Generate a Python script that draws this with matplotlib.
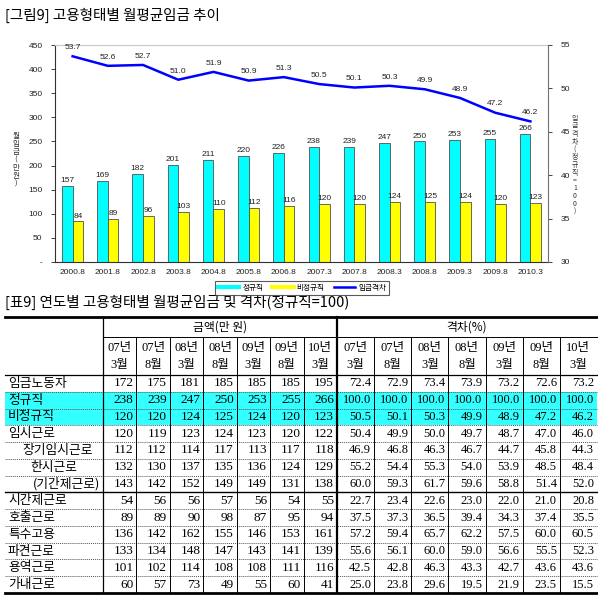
import matplotlib
matplotlib.use("Agg")
import matplotlib.pyplot as plt
import numpy as np
from matplotlib.lines import Line2D
from matplotlib.patches import Rectangle

plt.rcParams['font.family'] = ['Liberation Sans', 'Noto Sans CJK KR', 'DejaVu Sans']

# ---------------- chart data ----------------
periods = ["2000.8", "2001.8", "2002.8", "2003.8", "2004.8", "2005.8", "2006.8",
           "2007.3", "2007.8", "2008.3", "2008.8", "2009.3", "2009.8", "2010.3"]
regular = [157, 169, 182, 201, 211, 220, 226, 238, 239, 247, 250, 253, 255, 266]
nonregular = [84, 89, 96, 103, 110, 112, 116, 120, 120, 124, 125, 124, 120, 123]
wage_gap = [53.7, 52.6, 52.7, 51.0, 51.9, 50.9, 51.3, 50.5, 50.1, 50.3, 49.9, 48.9, 47.2, 46.2]
left_ticks = [0, 50, 100, 150, 200, 250, 300, 350, 400, 450]
left_tick_labels = ["-", "50", "100", "150", "200", "250", "300", "350", "400", "450"]
right_ticks = [30, 35, 40, 45, 50, 55]
legend_labels = ["정규직", "비정규직", "임금격차"]

# ---------------- table data ----------------
col_headers = ["07년\n3월", "07년\n8월", "08년\n3월", "08년\n8월", "09년\n3월", "09년\n8월", "10년\n3월"]
row_labels = ["임금노동자", "정규직", "비정규직", "임시근로", "장기임시근로", "한시근로", "(기간제근로)",
              "시간제근로", "호출근로", "특수고용", "파견근로", "용역근로", "가내근로"]
row_indent = [0, 0, 0, 0, 14, 22, 25, 0, 0, 0, 0, 0, 0]
amounts = [
    [172, 175, 181, 185, 185, 185, 195],
    [238, 239, 247, 250, 253, 255, 266],
    [120, 120, 124, 125, 124, 120, 123],
    [120, 119, 123, 124, 123, 120, 122],
    [112, 112, 114, 117, 113, 117, 118],
    [132, 130, 137, 135, 136, 124, 129],
    [143, 142, 152, 149, 149, 131, 138],
    [54, 56, 56, 57, 56, 54, 55],
    [89, 89, 90, 98, 87, 95, 94],
    [136, 142, 162, 155, 146, 153, 161],
    [133, 134, 148, 147, 143, 141, 139],
    [101, 102, 114, 108, 108, 111, 116],
    [60, 57, 73, 49, 55, 60, 41],
]
gaps = [
    [72.4, 72.9, 73.4, 73.9, 73.2, 72.6, 73.2],
    [100.0, 100.0, 100.0, 100.0, 100.0, 100.0, 100.0],
    [50.5, 50.1, 50.3, 49.9, 48.9, 47.2, 46.2],
    [50.4, 49.9, 50.0, 49.7, 48.7, 47.0, 46.0],
    [46.9, 46.8, 46.3, 46.7, 44.7, 45.8, 44.3],
    [55.2, 54.4, 55.3, 54.0, 53.9, 48.5, 48.4],
    [60.0, 59.3, 61.7, 59.6, 58.8, 51.4, 52.0],
    [22.7, 23.4, 22.6, 23.0, 22.0, 21.0, 20.8],
    [37.5, 37.3, 36.5, 39.4, 34.3, 37.4, 35.5],
    [57.2, 59.4, 65.7, 62.2, 57.5, 60.0, 60.5],
    [55.6, 56.1, 60.0, 59.0, 56.6, 55.5, 52.3],
    [42.5, 42.8, 46.3, 43.3, 42.7, 43.6, 43.6],
    [25.0, 23.8, 29.6, 19.5, 21.9, 23.5, 15.5],
]
highlight_rows = [1, 2]

W, H = 598, 601
fig = plt.figure(figsize=(W / 100, H / 100), dpi=100)

# overlay axes in pixel coordinates for titles and table
tax = fig.add_axes([0, 0, 1, 1])
tax.set_xlim(0, W)
tax.set_ylim(H, 0)
tax.axis("off")

kfont = ['Noto Sans CJK KR', 'DejaVu Sans']
sfont = ['Liberation Serif', 'Noto Sans CJK KR', 'DejaVu Sans']

tax.text(5, 15, "[그림9] 고용형태별 월평균임금 추이", fontsize=10.5, family=kfont,
         va="center", ha="left")
tax.text(5, 302, "[표9] 연도별 고용형태별 월평균임금 및 격차(정규직=100)", fontsize=10.5,
         family=kfont, va="center", ha="left")

# ---------------- chart ----------------
ax = fig.add_axes([55 / W, 1 - 262 / H, 493 / W, 217 / H])
x = np.arange(len(periods))
bw = 0.3
ax.bar(x - bw / 2, regular, bw, color="#00FFFF", edgecolor="#505050", linewidth=0.6, zorder=2)
ax.bar(x + bw / 2, nonregular, bw, color="#FFFF00", edgecolor="#505050", linewidth=0.6, zorder=2)
for xi, v in zip(x, regular):
    ax.text(xi - bw / 2, v + 4, str(v), ha="center", va="bottom", fontsize=6, color="#222222")
for xi, v in zip(x, nonregular):
    ax.text(xi + bw / 2, v + 4, str(v), ha="center", va="bottom", fontsize=6, color="#222222")
ax.set_xlim(-0.5, len(periods) - 0.5)
ax.set_ylim(0, 450)
ax.set_yticks(left_ticks)
ax.set_yticklabels(left_tick_labels)
ax.set_xticks(x)
ax.set_xticklabels(periods)
ax.tick_params(axis="x", length=0, labelsize=6, pad=5, colors="#222222")
ax.tick_params(axis="y", length=3, width=0.6, labelsize=6, colors="#222222", pad=6)
ax.spines["top"].set_color("#C8C8C8")
ax.spines["left"].set_color("#303030")
ax.spines["bottom"].set_color("#303030")
ax.spines["right"].set_visible(False)

ax2 = ax.twinx()
ax2.plot(x, wage_gap, color="#0000FF", linewidth=1.8, zorder=3)
for xi, v in zip(x, wage_gap):
    ax2.text(xi, v + 0.6, f"{v:.1f}", ha="center", va="bottom", fontsize=6, color="#222222")
ax2.set_ylim(30, 55)
ax2.set_yticks(right_ticks)
ax2.tick_params(axis="y", length=3, width=0.6, labelsize=6, colors="#222222", pad=6)
ax2.spines["right"].set_color("#707070")
ax2.spines["top"].set_visible(False)
ax2.spines["left"].set_visible(False)
ax2.spines["bottom"].set_visible(False)

tax.text(16, 160, "\n".join("월임금(만원)"), fontsize=5.5, family=kfont, ha="center",
         va="center", linespacing=1.0, color="#333333")
tax.text(575, 165, "\n".join("임금격차(정규직=100)"), fontsize=5.0, family=kfont, ha="center",
         va="center", linespacing=0.95, color="#333333")

handles = [Line2D([], [], color="#00FFFF", lw=3),
           Line2D([], [], color="#FFFF00", lw=3),
           Line2D([], [], color="#0000FF", lw=1.8)]
leg = fig.legend(handles, legend_labels, loc="center", bbox_to_anchor=(302 / W, 1 - 288 / H),
                 ncol=3, frameon=True, fancybox=False, edgecolor="#303030",
                 handlelength=2.8, columnspacing=1.2, handletextpad=0.4, borderpad=0.35,
                 prop={"family": kfont, "size": 5.5})
leg.get_frame().set_linewidth(0.8)

# ---------------- table ----------------
t_left, t_right = 5, 597
lab_right = 103
amt_left, amt_w = 103, 33.43
gap_left, gap_w = 337, 37.14
y_top, y_h1, y_h2, y_bot = 317, 337, 375, 593
rh = (y_bot - y_h2) / len(row_labels)

for r in highlight_rows:
    tax.add_patch(Rectangle((t_left, y_h2 + r * rh), t_right - t_left, rh,
                            facecolor="#33FFFF", edgecolor="none", zorder=0))

# horizontal lines
tax.plot([t_left, t_right], [y_top, y_top], color="black", lw=2.0)
tax.plot([t_left, t_right], [y_bot, y_bot], color="black", lw=2.0)
tax.plot([lab_right, t_right], [y_h1, y_h1], color="black", lw=0.7)
tax.plot([t_left, t_right], [y_h2, y_h2], color="black", lw=0.9)
for i in range(1, len(row_labels)):
    yy = y_h2 + i * rh
    if row_labels[i] == "시간제근로":
        tax.plot([t_left, t_right], [yy, yy], color="black", lw=1.0)
    else:
        tax.plot([t_left, t_right], [yy, yy], color="#555555", lw=0.7, ls=(0, (1, 1)))

# vertical lines
tax.plot([lab_right, lab_right], [y_top, y_bot], color="black", lw=0.9)
for j in range(1, 7):
    xx = amt_left + j * amt_w
    tax.plot([xx, xx], [y_h1, y_bot], color="black", lw=0.7)
tax.plot([gap_left, gap_left], [y_top, y_bot], color="black", lw=1.6)
for j in range(1, 7):
    xx = gap_left + j * gap_w
    tax.plot([xx, xx], [y_h1, y_bot], color="black", lw=0.7)

# headers
tax.text(amt_left + 3.5 * amt_w, (y_top + y_h1) / 2, "금액(만 원)", family=kfont,
         fontsize=8.5, ha="center", va="center")
tax.text(gap_left + 3.5 * gap_w, (y_top + y_h1) / 2, "격차(%)", family=kfont,
         fontsize=8.5, ha="center", va="center")
for j, hdr in enumerate(col_headers):
    top, bottom = hdr.split("\n")
    for left, w in ((amt_left, amt_w), (gap_left, gap_w)):
        cx = left + (j + 0.5) * w
        tax.text(cx, 348, top, family=sfont, fontsize=9, ha="center", va="center")
        tax.text(cx, 365, bottom, family=sfont, fontsize=9, ha="center", va="center")

# body
for i, lab in enumerate(row_labels):
    cy = y_h2 + (i + 0.5) * rh
    tax.text(t_left + 3 + row_indent[i], cy, lab, family=kfont, fontsize=9.2,
             ha="left", va="center")
    for j in range(7):
        tax.text(amt_left + (j + 1) * amt_w - 3, cy, str(amounts[i][j]), family=sfont,
                 fontsize=9.5, ha="right", va="center")
        tax.text(gap_left + (j + 1) * gap_w - 3, cy, f"{gaps[i][j]:.1f}", family=sfont,
                 fontsize=9, ha="right", va="center")

fig.savefig("out.png", dpi=100)
